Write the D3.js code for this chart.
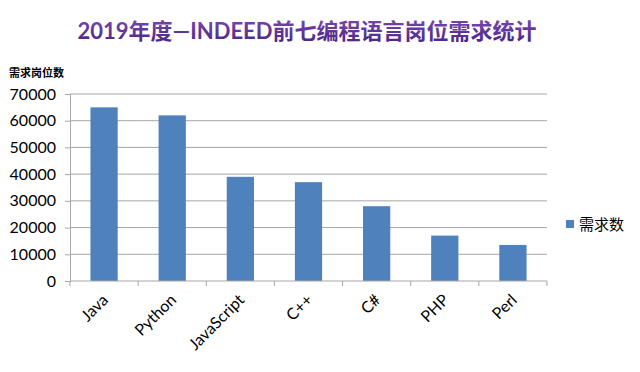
<!DOCTYPE html>
<html>
<head>
<meta charset="utf-8">
<script src="https://cdn.jsdelivr.net/npm/d3@7"></script>
<style>
  body { margin: 0; background: #fff; }
  svg { display: block; }
</style>
</head>
<body>
<svg id="chart" width="640" height="372"></svg>
<script>
// data
let languages = ["Java", "Python", "JavaScript", "C++", "C#", "PHP", "Perl"];
let demand = [65000, 62000, 39000, 37000, 28000, 17000, 13500];
let yTicks = [0, 10000, 20000, 30000, 40000, 50000, 60000, 70000];

let svg = d3.select("#chart");
let margin = { left: 70, right: 93, top: 94, bottom: 91 };
let width = 640, height = 372;

let x = d3.scaleBand()
    .domain(languages)
    .range([margin.left, width - margin.right])
    .paddingInner(0.6)
    .paddingOuter(0.3);

let y = d3.scaleLinear()
    .domain([0, 70000])
    .range([height - margin.bottom, margin.top]);

// gradient for title
let defs = svg.append("defs");
let grad = defs.append("linearGradient").attr("id", "tg")
    .attr("x1", 0).attr("y1", 0).attr("x2", 0).attr("y2", 1);
grad.append("stop").attr("offset", "0%").attr("stop-color", "#7a4bb0");
grad.append("stop").attr("offset", "100%").attr("stop-color", "#4a2285");

svg.append("text")
    .attr("x", 307).attr("y", 39)
    .attr("text-anchor", "middle")
    .attr("font-family", "Lato, 'Noto Sans CJK SC', sans-serif")
    .attr("font-weight", "bold")
    .attr("font-size", 22)
    .attr("fill", "url(#tg)")
    .text("2019年度—INDEED前七编程语言岗位需求统计");

// y axis title
svg.append("text")
    .attr("x", 9).attr("y", 77)
    .attr("font-family", "'Noto Sans CJK SC', sans-serif")
    .attr("font-weight", "bold")
    .attr("font-size", 11)
    .attr("fill", "#000")
    .text("需求岗位数");

// gridlines
svg.append("g")
    .selectAll("line")
    .data(yTicks.slice(1))
    .enter()
    .append("line")
    .attr("x1", margin.left)
    .attr("x2", width - margin.right)
    .attr("y1", d => y(d))
    .attr("y2", d => y(d))
    .attr("stroke", "#a6a6a6")
    .attr("stroke-width", 1);

// bars
svg.append("g")
    .selectAll("rect")
    .data(demand)
    .enter()
    .append("rect")
    .attr("x", (d, i) => x(languages[i]))
    .attr("y", d => y(d))
    .attr("width", x.bandwidth())
    .attr("height", d => y(0) - y(d))
    .attr("fill", "#4f81bd");

// y axis
let yAxis = svg.append("g")
    .attr("transform", `translate(${margin.left},0)`)
    .call(d3.axisLeft(y).tickValues(yTicks).tickSize(5).tickPadding(9).tickFormat(d3.format("d")));
yAxis.select(".domain").attr("stroke", "#a6a6a6");
yAxis.selectAll(".tick line").attr("stroke", "#a6a6a6");
yAxis.selectAll("text")
    .attr("font-family", "Lato, sans-serif")
    .attr("font-size", 16)
    .attr("fill", "#000");

// x axis
let step = x.step();
let xEdges = languages.map(l => x(l) - x.paddingInner() * step / 2).concat([width - margin.right]);
svg.append("line")
    .attr("x1", margin.left).attr("x2", width - margin.right)
    .attr("y1", y(0)).attr("y2", y(0))
    .attr("stroke", "#a6a6a6");
svg.append("g")
    .selectAll("line")
    .data(xEdges)
    .enter()
    .append("line")
    .attr("x1", d => d).attr("x2", d => d)
    .attr("y1", y(0)).attr("y2", y(0) + 5)
    .attr("stroke", "#a6a6a6");

svg.append("g")
    .selectAll("text")
    .data(languages)
    .enter()
    .append("text")
    .attr("transform", d => `translate(${x(d) + x.bandwidth() / 2 + 5},${y(0) + 20}) rotate(-45)`)
    .attr("text-anchor", "end")
    .attr("font-family", "Lato, sans-serif")
    .attr("font-size", 16)
    .attr("fill", "#000")
    .text(d => d);

// legend
svg.append("rect")
    .attr("x", 566).attr("y", 220)
    .attr("width", 8).attr("height", 8)
    .attr("fill", "#4f81bd");
svg.append("text")
    .attr("x", 579).attr("y", 230)
    .attr("font-family", "'Noto Sans CJK SC', sans-serif")
    .attr("font-size", 15)
    .attr("fill", "#000")
    .text("需求数");
</script>
</body>
</html>
